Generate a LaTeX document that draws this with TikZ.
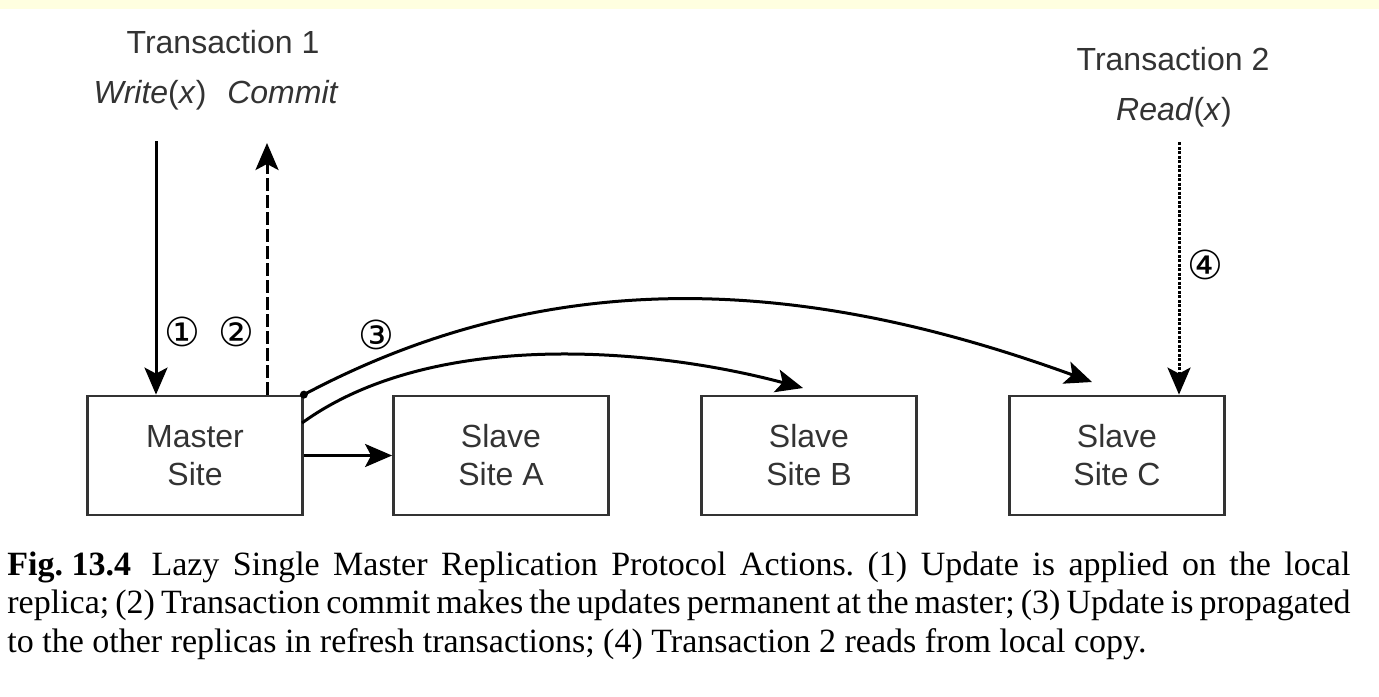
\documentclass[tikz,border=0pt]{standalone}
\usepackage{fontspec}
\setmainfont{Liberation Serif}
\setsansfont{Liberation Sans}
\newfontfamily\circfont{DejaVu Sans}
\usetikzlibrary{arrows.meta,positioning}
\definecolor{bandyellow}{HTML}{FFFFE0}
\definecolor{boxgray}{HTML}{333333}
\begin{document}
\begin{tikzpicture}[x=0.5pt, y=-0.5pt,
  site/.style = {shape=rectangle, draw=boxgray, line width=1.4pt,
    minimum width=107.5pt, minimum height=59.5pt, align=center,
    font=\sffamily\fontsize{16}{19}\selectfont, text=black!80},
  label/.style = {font=\sffamily\fontsize{16}{19}\selectfont, text=black!80},
  num/.style = {font=\circfont\fontsize{20}{20}\selectfont, inner sep=0pt},
  link/.style = {line width=1.5pt, -{Stealth[length=13.5pt, width=11.5pt, inset=3pt]}}]
  \useasboundingbox (0,0) rectangle (1379,696);
  \fill[bandyellow] (0,0) rectangle (1379,9);
  % sites
  \node[site] (master) at (195,455.5) {Master\\Site};
  \node[site] (slaveA) at (501,455.5) {Slave\\Site A};
  \node[site] (slaveB) at (809,455.5) {Slave\\Site B};
  \node[site] (slaveC) at (1117,455.5) {Slave\\Site C};
  % transactions
  \node[label, anchor=base] (trans1) at (223,53) {Transaction 1};
  \node[label, anchor=base] (write) at (150,103) {\textit{Write}(\textit{x})};
  \node[label, anchor=base] (commit) at (283,103) {\textit{Commit}};
  \node[label, anchor=base] (trans2) at (1173,70) {Transaction 2};
  \node[label, anchor=base] (read) at (1174,120) {\textit{Read}(\textit{x})};
  \coordinate (w1) at (156,141);
  \coordinate (c1) at (267,143);
  \coordinate (r1) at (1179,142);
  \coordinate (fromB) at (302,423);
  \coordinate (tipB) at (803,388);
  \coordinate (tipC) at (1092,382);
  % actions
  \draw[link] (w1) -- (w1 |- master.north);
  \draw[link, dash pattern=on 6.5pt off 2pt] (c1 |- master.north) -- (c1);
  \draw[link, dash pattern=on 1.5pt off 0.75pt] (r1) -- (r1 |- slaveC.north);
  \draw[link] (master.east) -- (slaveA.west);
  \draw[link] (fromB) .. controls +(36:79.5pt) and +(165:79.5pt) .. (tipB);
  \draw[link] (master.north east) .. controls +(28:146pt) and +(160:146pt) .. (tipC);
  \fill (master.north east) circle (2pt);
  \node[num] (n1) at (182,332) {①};
  \node[num] (n2) at (236,332) {②};
  \node[num] (n3) at (376,335) {③};
  \node[num] (n4) at (1205,265) {④};
  % caption
  \node[anchor=north west, inner sep=0pt, text width=671.5pt, align=justify,
    font=\fontsize{17}{19.25}\selectfont] (caption) at (7,551)
    {\frenchspacing\hyphenpenalty=10000 \spaceskip=0.25em plus 1em minus 0.15em
     \textbf{Fig.\hspace{0.25em}13.4}\hspace{0.6em}Lazy Single Master Replication Protocol Actions. (1) Update is applied on the local\linebreak replica; (2) Transaction commit makes the updates permanent at the master; (3) Update is propagated\linebreak to the other replicas in refresh transactions; (4) Transaction 2 reads from local copy.};
\end{tikzpicture}
\end{document}
